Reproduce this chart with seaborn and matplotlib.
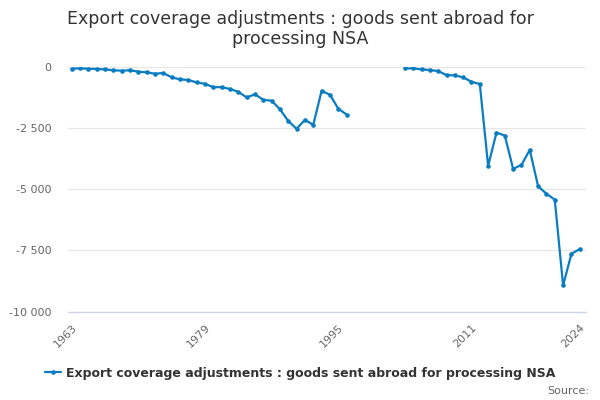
import numpy as np
import pandas as pd
import matplotlib
matplotlib.use("Agg")
import matplotlib.pyplot as plt
import seaborn as sns
from matplotlib.lines import Line2D

title = "Export coverage adjustments : goods sent abroad for\nprocessing NSA"
series_name = "Export coverage adjustments : goods sent abroad for processing NSA"

years_a = list(range(1963, 1997))
values_a = [-70, -55, -70, -80, -100, -135, -150, -135, -190, -220,
            -275, -245, -425, -505, -530, -630, -690, -825, -825, -900,
            -1015, -1245, -1120, -1340, -1380, -1730, -2210, -2530, -2160, -2365,
            -975, -1135, -1700, -1945]
years_b = list(range(2003, 2025))
values_b = [-57, -57, -98, -125, -165, -330, -343, -425, -603, -698,
            -4045, -2680, -2805, -4168, -4004, -3389, -4880, -5185, -5425, -8934,
            -7640, -7446]

tick_years = [1963, 1967, 1971, 1975, 1979, 1983, 1987, 1991, 1995, 1999,
              2003, 2007, 2011, 2015, 2019, 2024]
label_years = [1963, 1979, 1995, 2011, 2024]
y_ticks = [0, -2500, -5000, -7500, -10000]

df = pd.DataFrame({
    "year": years_a + years_b,
    "value": values_a + values_b,
    "segment": ["a"] * len(years_a) + ["b"] * len(years_b),
})

sns.set_style("white")
plt.rcParams["font.family"] = ["DejaVu Sans"]

color = "#0a7cc1"
fig = plt.figure(figsize=(6, 4), dpi=100)
ax = fig.add_axes([68 / 600, 1 - 311.5 / 400, 518 / 600, 244.5 / 400])

sns.lineplot(data=df, x="year", y="value", units="segment", estimator=None,
             color=color, lw=1.6, marker="o", markersize=3.3,
             markeredgewidth=0, ax=ax, legend=False)

ax.set_xlim(1962.55, 2024.75)
ax.set_ylim(-10000, 0)
ax.set_xlabel("")
ax.set_ylabel("")

ax.set_yticks(y_ticks)
ax.set_yticklabels([f"{v:,}".replace(",", " ") for v in y_ticks],
                   color="#666666", fontsize=8)
ax.yaxis.grid(True, color="#e6e6e6", lw=0.9)
ax.set_axisbelow(True)
ax.tick_params(axis="y", length=0, pad=12)

ax.set_xticks(tick_years)
ax.set_xticklabels([str(y) if y in label_years else "" for y in tick_years],
                   rotation=45, ha="right", rotation_mode="anchor",
                   color="#666666", fontsize=8)
ax.tick_params(axis="x", length=6.5, width=0.9, color="#ccd6eb",
               direction="out", pad=1.5)

for s in ["top", "right", "left"]:
    ax.spines[s].set_visible(False)
ax.spines["bottom"].set_color("#ccd6eb")
ax.spines["bottom"].set_linewidth(0.9)

fig.text(0.5, 0.927, title, ha="center", va="center", fontsize=12.5,
         color="#333333", linespacing=1.15)

handle = Line2D([0], [0], color=color, lw=1.6, marker="o", markersize=3.3,
                markeredgewidth=0)
fig.legend([handle], [series_name], loc="center", bbox_to_anchor=(0.5, 0.067),
           frameon=False, handlelength=1.3, handletextpad=0.4,
           prop={"weight": "bold", "size": 9}, labelcolor="#333333")

fig.text(0.982, 0.022, "Source:", ha="right", va="center", fontsize=8,
         color="#666666")

fig.savefig("out.png", dpi=100)
